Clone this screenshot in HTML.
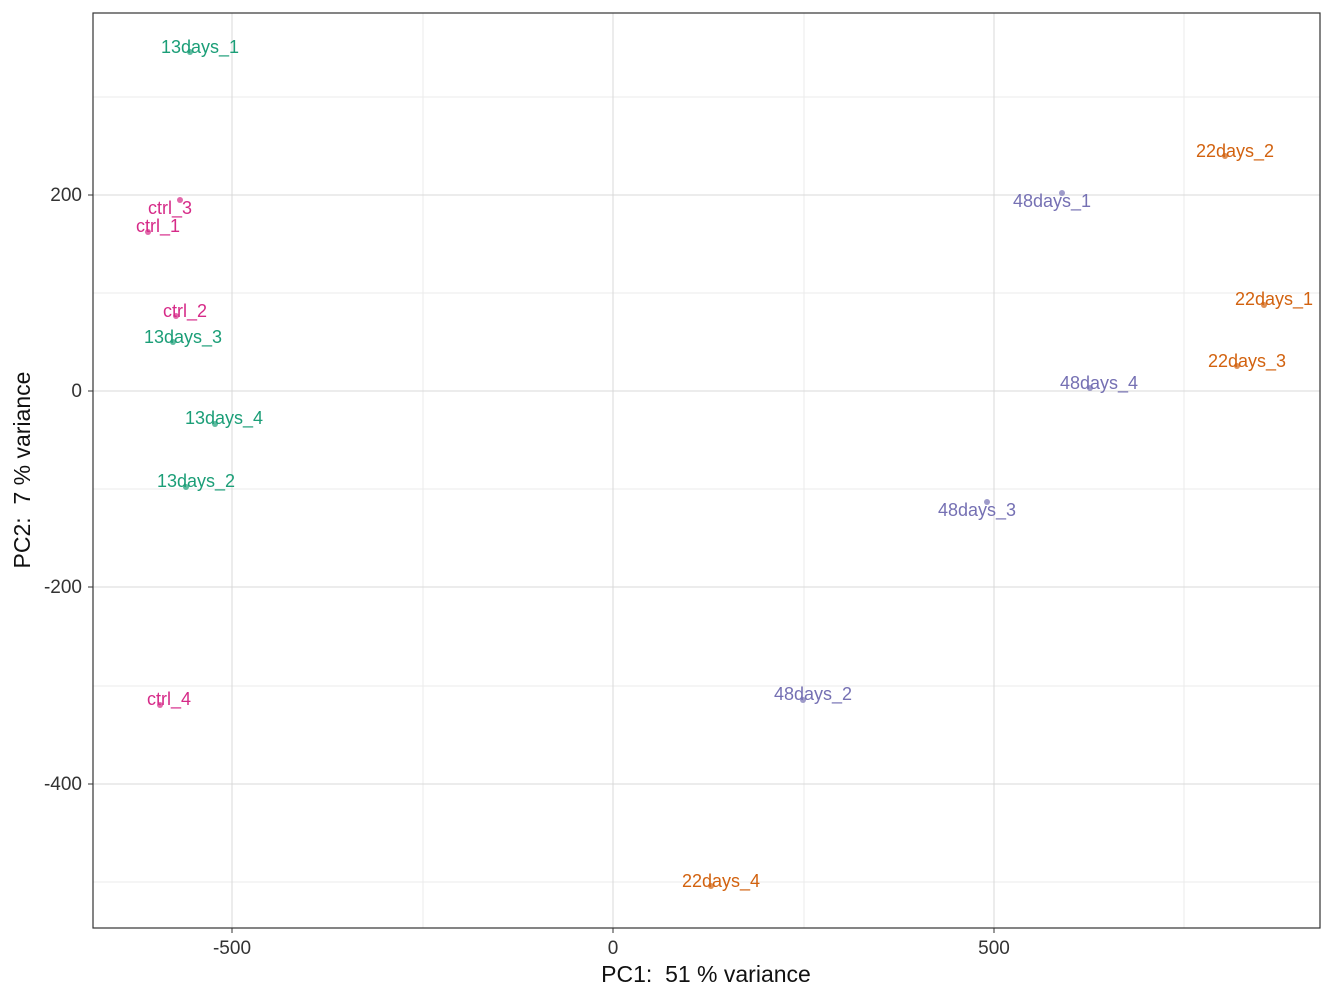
<!DOCTYPE html>
<html><head><meta charset="utf-8"><style>body{margin:0;background:#fff}</style></head><body>
<svg width="1333" height="1000" xmlns="http://www.w3.org/2000/svg" font-family="Liberation Sans, sans-serif">
<rect width="1333" height="1000" fill="#fff"/>
<g stroke="#ebebeb" stroke-width="1">
<line x1="423" y1="13" x2="423" y2="928"/><line x1="804" y1="13" x2="804" y2="928"/><line x1="1184" y1="13" x2="1184" y2="928"/>
<line x1="93" y1="97" x2="1320" y2="97"/><line x1="93" y1="293" x2="1320" y2="293"/><line x1="93" y1="489" x2="1320" y2="489"/><line x1="93" y1="686" x2="1320" y2="686"/><line x1="93" y1="882" x2="1320" y2="882"/>
</g>
<g stroke="#d9d9d9" stroke-width="1">
<line x1="232" y1="13" x2="232" y2="928"/><line x1="613" y1="13" x2="613" y2="928"/><line x1="994" y1="13" x2="994" y2="928"/>
<line x1="93" y1="195" x2="1320" y2="195"/><line x1="93" y1="391" x2="1320" y2="391"/><line x1="93" y1="587" x2="1320" y2="587"/><line x1="93" y1="784" x2="1320" y2="784"/>
</g>
<rect x="93" y="13" width="1227" height="915" fill="none" stroke="#333" stroke-width="1.2"/>
<g stroke="#333"><line x1="232" y1="928" x2="232" y2="933"/><line x1="613" y1="928" x2="613" y2="933"/><line x1="994" y1="928" x2="994" y2="933"/>
<line x1="88" y1="195" x2="93" y2="195"/><line x1="88" y1="391" x2="93" y2="391"/><line x1="88" y1="587" x2="93" y2="587"/><line x1="88" y1="784" x2="93" y2="784"/></g>
<g font-size="19" fill="#333" text-anchor="middle"><text x="232" y="954">-500</text><text x="613" y="954">0</text><text x="994" y="954">500</text></g>
<g font-size="19" fill="#333" text-anchor="end"><text x="82" y="201">200</text><text x="82" y="397">0</text><text x="82" y="593">-200</text><text x="82" y="790">-400</text></g>
<text x="706" y="982" font-size="23" text-anchor="middle" fill="#111">PC1: &#160;51 % variance</text>
<text transform="translate(30,470) rotate(-90)" font-size="23" text-anchor="middle" fill="#111">PC2: &#160;7 % variance</text>
<g font-size="18" text-anchor="middle">
<g fill="#1b9e77"><circle cx="190" cy="52" r="3" opacity="0.7"/><circle cx="173" cy="342" r="3" opacity="0.7"/><circle cx="215" cy="424" r="3" opacity="0.7"/><circle cx="186" cy="487" r="3" opacity="0.7"/>
<text x="200" y="53">13days_1</text><text x="183" y="343">13days_3</text><text x="224" y="424">13days_4</text><text x="196" y="487">13days_2</text></g>
<g fill="#d62a88"><circle cx="180" cy="200" r="3" opacity="0.7"/><circle cx="148" cy="232" r="3" opacity="0.7"/><circle cx="176" cy="316" r="3" opacity="0.7"/><circle cx="160" cy="705" r="3" opacity="0.7"/>
<text x="170" y="214">ctrl_3</text><text x="158" y="232">ctrl_1</text><text x="185" y="317">ctrl_2</text><text x="169" y="705">ctrl_4</text></g>
<g fill="#d2620f"><circle cx="1225" cy="156" r="3" opacity="0.7"/><circle cx="1264" cy="305" r="3" opacity="0.7"/><circle cx="1237" cy="366" r="3" opacity="0.7"/><circle cx="711" cy="886" r="3" opacity="0.7"/>
<text x="1235" y="157">22days_2</text><text x="1274" y="305">22days_1</text><text x="1247" y="367">22days_3</text><text x="721" y="887">22days_4</text></g>
<g fill="#7570b3"><circle cx="1062" cy="193" r="3" opacity="0.7"/><circle cx="1090" cy="388" r="3" opacity="0.7"/><circle cx="987" cy="502" r="3" opacity="0.7"/><circle cx="803" cy="700" r="3" opacity="0.7"/>
<text x="1052" y="207">48days_1</text><text x="1099" y="389">48days_4</text><text x="977" y="516">48days_3</text><text x="813" y="700">48days_2</text></g>
</g>
</svg>
</body></html>
